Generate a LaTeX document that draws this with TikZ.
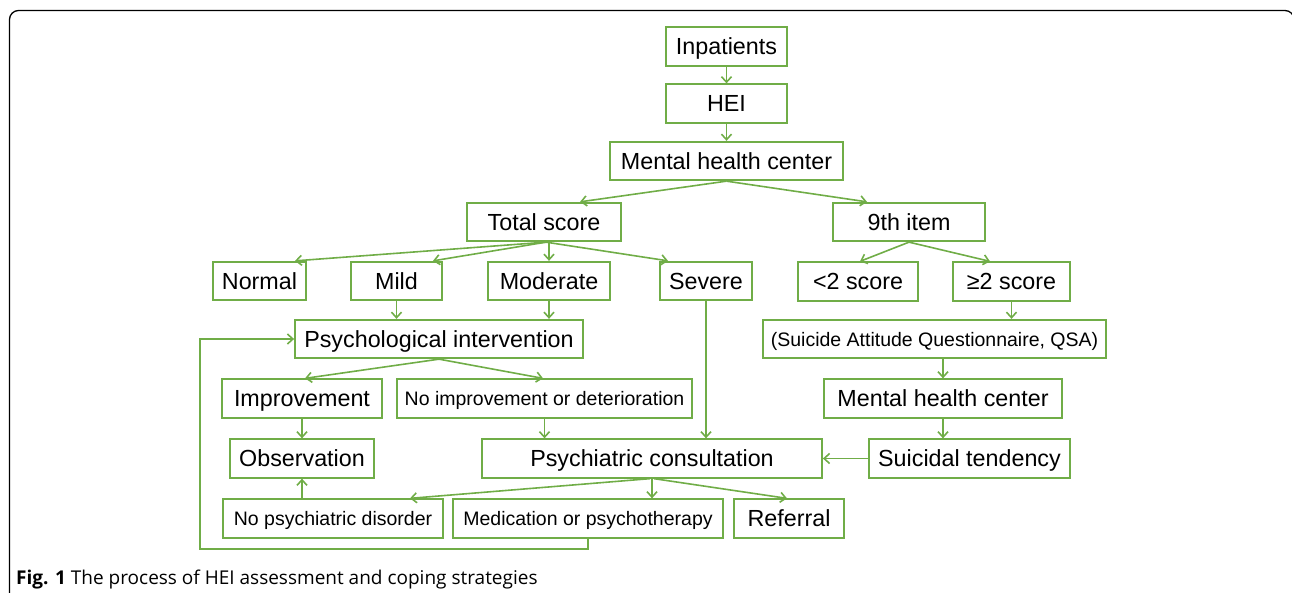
\documentclass[tikz,border=0pt]{standalone}
\usepackage{fontspec}
\setmainfont{Liberation Sans}
\newfontfamily\capfont{Open Sans}
\usetikzlibrary{arrows.meta,calc}
\definecolor{boxgreen}{HTML}{70AD47}
\begin{document}
\begin{tikzpicture}[x=1pt,y=-1pt,
  box/.style={draw=boxgreen,line width=1.8pt,inner sep=0pt,minimum height=38.5pt,align=center,
    text height=16.7pt,text depth=0pt,font=\fontsize{23.3}{27}\selectfont},
  smallbox/.style={box,text height=14pt,font=\fontsize{19.5}{23}\selectfont},
  arr/.style={draw=boxgreen,line width=1.6pt,-{Straight Barb[length=5.5pt,width=10pt,line width=1.6pt]}},
  ln/.style={draw=boxgreen,line width=1.6pt}]
\useasboundingbox (0,0) rectangle (1292,592);
\draw[black,line width=1.3pt,rounded corners=9pt] (9.5,600) -- (9.5,10.5) -- (1294,10.5) -- (1294,600);
% nodes
\node[box,minimum width=121pt] (inp) at (726.5,46.5) {Inpatients};
\node[box,minimum width=121pt] (hei) at (726.5,103.5) {HEI};
\node[box,minimum width=233pt] (mhc) at (726.5,161) {Mental health center};
\node[box,minimum width=154pt] (tot) at (544,222) {Total score};
\node[box,minimum width=152pt] (ninth) at (909,222) {9th item};
\node[box,minimum width=93pt] (normal) at (259.5,281) {Normal};
\node[box,minimum width=91pt] (mild) at (396.5,281) {Mild};
\node[box,minimum width=122pt] (moderate) at (549,281) {Moderate};
\node[box,minimum width=92pt] (severe) at (706,281) {Severe};
\node[box,minimum width=120pt] (lt2) at (858,281.5) {<2 score};
\node[box,minimum width=117pt] (ge2) at (1011.5,281.5) {≥2 score};
\node[smallbox,minimum width=343pt] (qsa) at (934.5,339) {(Suicide Attitude Questionnaire, QSA)};
\node[box,minimum width=288pt] (psyint) at (439,339) {Psychological intervention};
\node[box,minimum width=160pt] (impr) at (302,398.5) {Improvement};
\node[smallbox,minimum width=295pt] (noimpr) at (544.5,398.5) {No improvement or deterioration};
\node[box,minimum width=238pt] (mhc2) at (943,398.5) {Mental health center};
\node[box,minimum width=144pt] (obs) at (302,458.5) {Observation};
\node[box,minimum width=340pt] (psycons) at (652,458.5) {Psychiatric consultation};
\node[box,minimum width=201pt] (suic) at (969.5,458.5) {Suicidal tendency};
\node[smallbox,minimum width=220pt] (nodis) at (333,518.5) {No psychiatric disorder};
\node[smallbox,minimum width=270pt] (med) at (588,518.5) {Medication or psychotherapy};
\node[box,minimum width=110pt] (ref) at (789,518.5) {Referral};
% connectors
\draw[arr] (inp) -- (hei);
\draw[arr] (hei) -- (mhc);
\draw[arr] (mhc.south) -- ([xshift=36pt]tot.north);
\draw[arr] (mhc.south) -- ([xshift=-42pt]ninth.north);
\draw[arr] ([xshift=2pt]tot.south) -- ([xshift=35.5pt]normal.north);
\draw[arr] ([xshift=2pt]tot.south) -- ([xshift=36.5pt]mild.north);
\draw[arr] (moderate.north |- tot.south) -- (moderate.north);
\draw[arr] ([xshift=2pt]tot.south) -- ([xshift=-38pt]severe.north);
\draw[arr] (ninth.south) -- ([xshift=2pt]lt2.north);
\draw[arr] (ninth.south) -- ([xshift=-21.5pt]ge2.north);
\draw[arr] (ge2.south) -- (ge2.south |- qsa.north);
\draw[arr] (mhc2.north |- qsa.south) -- (mhc2.north);
\draw[arr] (mhc2.south) -- (mhc2.south |- suic.north);
\draw[arr] (suic.west) -- (psycons.east);
\draw[arr] (mild.south) -- (mild.south |- psyint.north);
\draw[arr] (moderate.south) -- (moderate.south |- psyint.north);
\draw[arr] (psyint.south) -- ([xshift=3pt]impr.north);
\draw[arr] (psyint.south) -- ([xshift=-1.5pt]noimpr.north);
\draw[arr] (impr.south) -- (obs.north);
\draw[arr] (noimpr.south) -- (noimpr.south |- psycons.north);
\draw[arr] (severe.south) -- (severe.south |- psycons.north);
\draw[arr] ([xshift=-2pt]psycons.south) -- ([xshift=77pt]nodis.north);
\draw[arr] (psycons.south) -- (psycons.south |- med.north);
\draw[arr] ([xshift=2pt]psycons.south) -- ([xshift=-2pt]ref.north);
\draw[arr] (obs.south |- nodis.north) -- (obs.south);
\coordinate (lp) at (200,549);
\draw[arr] (med.south) |- (lp) |- (psyint.west);
% caption
\node[anchor=base west,inner sep=0pt,font=\capfont\fontsize{19}{22}\selectfont] (cap) at (16,584.5)
  {\textbf{Fig. 1} The process of HEI assessment and coping strategies};
\end{tikzpicture}
\end{document}
